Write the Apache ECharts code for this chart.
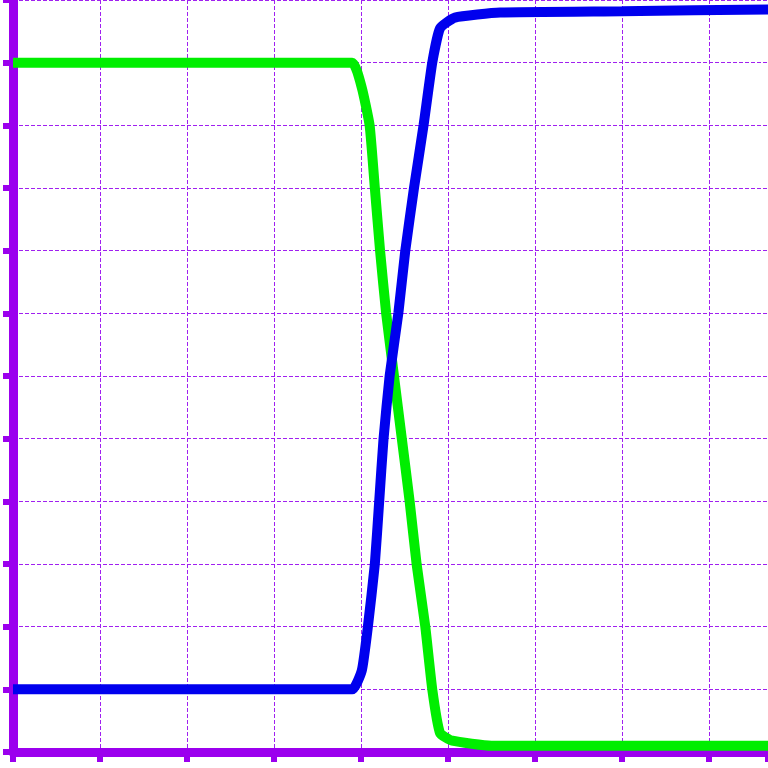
<!DOCTYPE html>
<html>
<head>
<meta charset="utf-8">
<script src="https://cdn.jsdelivr.net/npm/echarts@6/dist/echarts.min.js"></script>
<style>html,body{margin:0;padding:0;background:#fff}#chart{width:768px;height:768px}</style>
</head>
<body>
<div id="chart"></div>
<script>
var greenX = [0, 1, 2, 3, 3.9, 4.01, 4.1, 4.16, 4.22, 4.29, 4.38, 4.47, 4.56, 4.64, 4.74, 4.82, 4.91, 5.05, 5.5, 7, 8.7];
var greenY = [11, 11, 11, 11, 11, 10.6, 10, 9, 8, 7, 6, 5, 4, 3, 2, 1, 0.3, 0.18, 0.1, 0.1, 0.1];
var blueX = [0, 1, 2, 3, 3.9, 4.01, 4.08, 4.16, 4.21, 4.26, 4.33, 4.43, 4.51, 4.61, 4.72, 4.82, 4.91, 5.08, 5.6, 7, 8.7];
var blueY = [1, 1, 1, 1, 1, 1.3, 2, 3, 4, 5, 6, 7, 8, 9, 10, 11, 11.55, 11.72, 11.8, 11.82, 11.85];

function pairs(xs, ys) {
    var out = [];
    for (var i = 0; i < xs.length; i++) {
        out.push([xs[i], ys[i]]);
    }
    return out;
}

var purple = '#9b00ee';
var chart = echarts.init(document.getElementById('chart'));
chart.setOption({
    animation: false,
    grid: {left: 13, right: 0, top: 0, bottom: 16, show: true, borderWidth: 0},
    xAxis: {
        type: 'value', min: 0, max: 8.68, interval: 1,
        axisLine: {lineStyle: {color: purple, width: 9}},
        axisTick: {show: true, length: 10, lineStyle: {color: purple, width: 6}},
        axisLabel: {show: false},
        splitLine: {show: true, lineStyle: {color: '#a020f0', type: 'dashed', width: 1}}
    },
    yAxis: {
        type: 'value', min: 0, max: 12, interval: 1,
        axisLine: {show: true, lineStyle: {color: purple, width: 9}},
        axisTick: {show: true, length: 10, lineStyle: {color: purple, width: 6}},
        axisLabel: {show: false},
        splitLine: {show: true, lineStyle: {color: '#a020f0', type: 'dashed', width: 1}}
    },
    series: [
        {type: 'line', data: pairs(greenX, greenY), smooth: 0.15, showSymbol: false,
         lineStyle: {color: '#00ee00', width: 10}},
        {type: 'line', data: pairs(blueX, blueY), smooth: 0.15, showSymbol: false,
         lineStyle: {color: '#0000ee', width: 10}}
    ]
});
</script>
</body>
</html>
